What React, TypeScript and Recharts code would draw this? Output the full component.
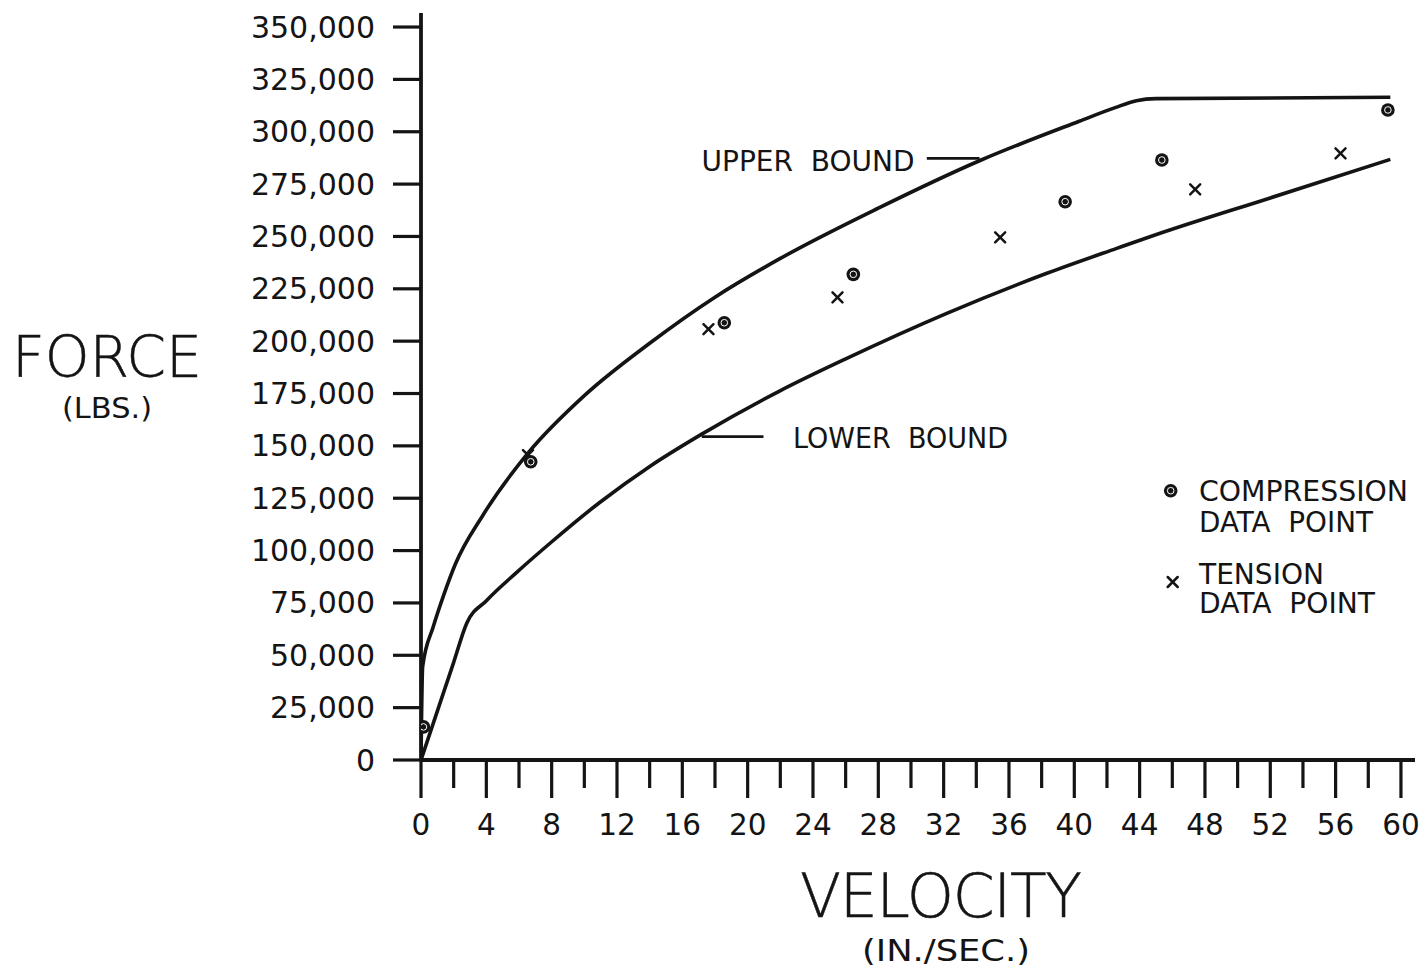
import React from 'react';
import {
  ComposedChart,
  Line,
  Scatter,
  XAxis,
  YAxis,
  ReferenceLine,
  Customized,
} from 'recharts';

// Velocity (in./sec.) and force (lbs.) along the upper bound curve
const upperVelocity = [0, 0.1, 0.75, 1.4, 2.1, 3.8, 6.6, 10, 14, 18, 22, 28, 34.3, 40.3, 42.5, 43.8, 45, 59.35];
const upperForce = [0, 44500, 63600, 79000, 93500, 117000, 147000, 174000, 199000, 221000, 239500, 263500, 286500, 305000, 311500, 314800, 315800, 316500];

// Velocity and force along the lower bound curve
const lowerVelocity = [0, 1.4, 2.0, 2.8, 4.02, 5.86, 7.9, 10.96, 14.03, 17.19, 21.98, 26.07, 32.19, 38.32, 42.6, 45.25, 52, 59.35];
const lowerForce = [0, 32650, 46640, 65300, 76200, 89600, 103500, 123100, 140300, 155600, 176300, 191800, 213300, 232400, 244300, 251500, 268400, 286800];

// Measured data points
const compressionVelocity = [0.15, 6.72, 18.57, 26.47, 39.44, 45.36, 59.2];
const compressionForce = [15800, 142400, 208800, 231900, 266600, 286500, 310400];
const tensionVelocity = [6.55, 17.6, 25.5, 35.46, 47.4, 56.3];
const tensionForce = [145600, 205700, 220900, 249600, 272500, 289700];

// Axis ticks
const velocityTicks = [0, 2, 4, 6, 8, 10, 12, 14, 16, 18, 20, 22, 24, 26, 28, 30, 32, 34, 36, 38, 40, 42, 44, 46, 48, 50, 52, 54, 56, 58, 60];
const forceTicks = [0, 25000, 50000, 75000, 100000, 125000, 150000, 175000, 200000, 225000, 250000, 275000, 300000, 325000, 350000];

const zip = (xs: number[], ys: number[]) => xs.map((v, i) => ({ v, f: ys[i] }));
const upperData = zip(upperVelocity, upperForce);
const lowerData = zip(lowerVelocity, lowerForce);
const compressionData = zip(compressionVelocity, compressionForce);
const tensionData = zip(tensionVelocity, tensionForce);

const FONT = '"DejaVu Sans", "Liberation Sans", sans-serif';
const INK = '#141414';

const CompressionMark = ({ cx, cy }: { cx: number; cy: number }) => (
  <g>
    <circle cx={cx} cy={cy} r={6.8} fill={INK} />
    <circle cx={cx} cy={cy} r={3.3} fill="none" stroke="#fff" strokeWidth={1} />
  </g>
);

const TensionMark = ({ cx, cy }: { cx: number; cy: number }) => (
  <g stroke={INK} strokeWidth={2.5} strokeLinecap="round">
    <line x1={cx - 5} y1={cy - 5} x2={cx + 5} y2={cy + 5} />
    <line x1={cx - 5} y1={cy + 5} x2={cx + 5} y2={cy - 5} />
  </g>
);

const VelocityTick = (props: any) => {
  const { x, y, payload } = props;
  const major = payload.value % 4 === 0;
  return (
    <g>
      <line x1={x} y1={y} x2={x} y2={y + (major ? 38 : 28)} stroke={INK} strokeWidth={3.2} />
      {major && (
        <text x={x} y={y + 75} textAnchor="middle" fontFamily={FONT} fontSize={29.5} fill={INK}>
          {payload.value}
        </text>
      )}
    </g>
  );
};

const ForceTick = (props: any) => {
  const { x, y, payload } = props;
  return (
    <g>
      <line x1={x - 28} y1={y} x2={x} y2={y} stroke={INK} strokeWidth={3.2} />
      <text x={x - 46} y={y + 10.5} textAnchor="end" fontFamily={FONT} fontSize={30} fill={INK}>
        {payload.value.toLocaleString('en-US')}
      </text>
    </g>
  );
};

const pre = { whiteSpace: 'pre' } as React.CSSProperties;

const Titles = () => (
  <g fontFamily={FONT} fill={INK}>
    <text x={12} y={376.5} fontSize={57} fontWeight={200} textLength={190} lengthAdjust="spacing" stroke={INK} strokeWidth={0.5}>FORCE</text>
    <text x={62} y={418} fontSize={28} textLength={90} lengthAdjust="spacingAndGlyphs">(LBS.)</text>
    <text x={800} y={916.5} fontSize={60} fontWeight={200} textLength={282} lengthAdjust="spacing" stroke={INK} strokeWidth={0.5}>VELOCITY</text>
    <text x={862} y={961} fontSize={31} textLength={168} lengthAdjust="spacingAndGlyphs">(IN./SEC.)</text>
    <text x={701.5} y={170.5} fontSize={28.5} style={pre} textLength={213} lengthAdjust="spacingAndGlyphs">UPPER  BOUND</text>
    <text x={793} y={448} fontSize={28.5} style={pre} textLength={215} lengthAdjust="spacingAndGlyphs">LOWER  BOUND</text>
    <CompressionMark cx={1170.7} cy={490.7} />
    <text x={1199} y={500.7} fontSize={27.5} textLength={209} lengthAdjust="spacingAndGlyphs">COMPRESSION</text>
    <text x={1199} y={531.7} fontSize={27.5} style={pre} textLength={174} lengthAdjust="spacingAndGlyphs">DATA  POINT</text>
    <TensionMark cx={1172.7} cy={582} />
    <text x={1199} y={584} fontSize={27.5} textLength={125} lengthAdjust="spacingAndGlyphs">TENSION</text>
    <text x={1199} y={613} fontSize={27.5} style={pre} textLength={176} lengthAdjust="spacingAndGlyphs">DATA  POINT</text>
  </g>
);

export default function App() {
  return (
    <div style={{ position: 'absolute', left: 0, top: 0, background: '#fff' }}>
      <ComposedChart
        width={1427}
        height={977}
        margin={{ top: 13, right: 12, bottom: 147, left: 0 }}
      >
        <XAxis
          type="number"
          dataKey="v"
          domain={[0, 60.86]}
          ticks={velocityTicks}
          interval={0}
          height={70}
          tickSize={0}
          tickMargin={0}
          tick={<VelocityTick />}
          axisLine={{ stroke: INK, strokeWidth: 3.8 }}
          tickLine={false}
          allowDataOverflow
        />
        <YAxis
          type="number"
          dataKey="f"
          domain={[0, 356700]}
          ticks={forceTicks}
          interval={0}
          width={421}
          tickSize={0}
          tickMargin={0}
          tick={<ForceTick />}
          axisLine={{ stroke: INK, strokeWidth: 3.8 }}
          tickLine={false}
          allowDataOverflow
        />
        <ReferenceLine
          segment={[{ x: 30.97, y: 287300 }, { x: 34.2, y: 287300 }]}
          stroke={INK}
          strokeWidth={2.8}
        />
        <ReferenceLine
          segment={[{ x: 17.19, y: 154400 }, { x: 20.97, y: 154400 }]}
          stroke={INK}
          strokeWidth={2.8}
        />
        <Line
          data={upperData}
          dataKey="f"
          type="monotone"
          stroke={INK}
          strokeWidth={3.6}
          dot={false}
          activeDot={false}
          isAnimationActive={false}
        />
        <Line
          data={lowerData}
          dataKey="f"
          type="monotone"
          stroke={INK}
          strokeWidth={3.6}
          dot={false}
          activeDot={false}
          isAnimationActive={false}
        />
        <Scatter
          data={tensionData}
          dataKey="f"
          shape={(p: any) => <TensionMark cx={p.cx} cy={p.cy} />}
          isAnimationActive={false}
        />
        <Scatter
          data={compressionData}
          dataKey="f"
          shape={(p: any) => <CompressionMark cx={p.cx} cy={p.cy} />}
          isAnimationActive={false}
        />
        <Customized component={Titles} />
      </ComposedChart>
    </div>
  );
}
